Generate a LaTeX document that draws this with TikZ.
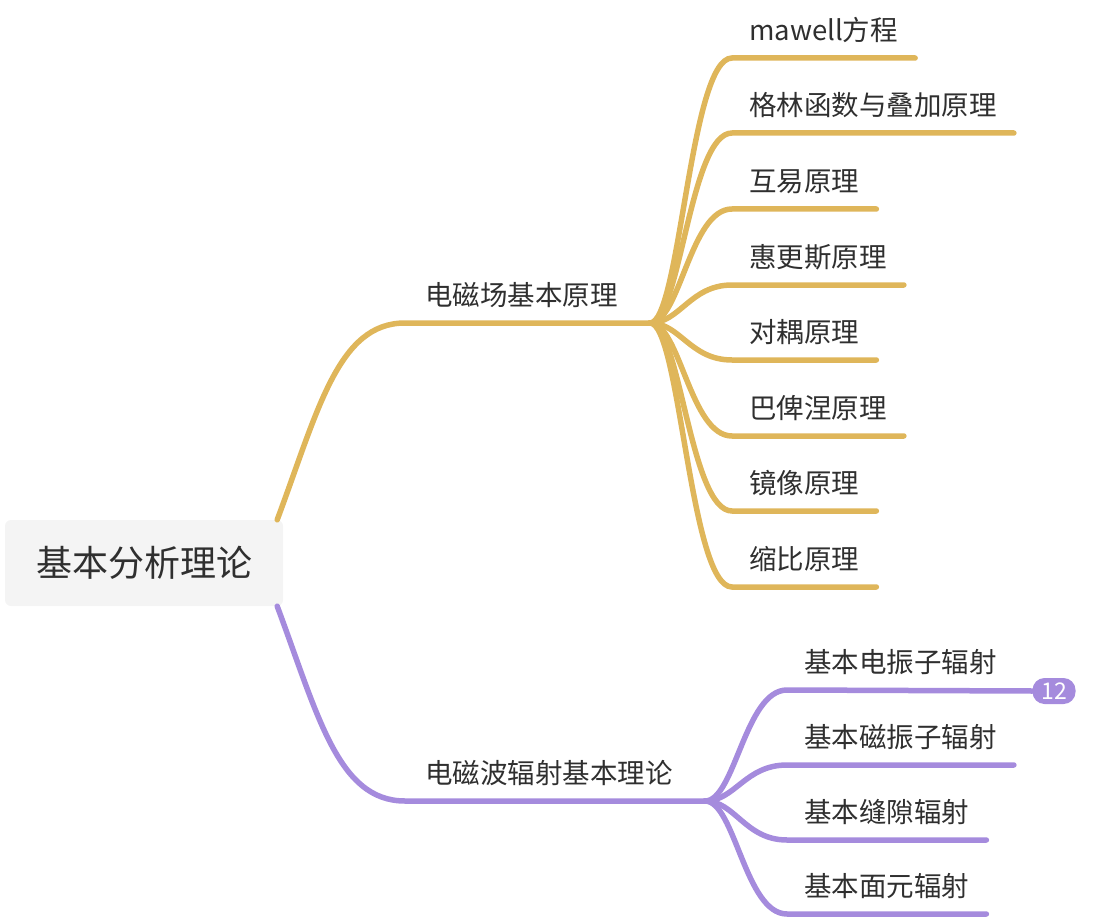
\documentclass[tikz,border=0pt]{standalone}
\usepackage{fontspec}
\usepackage{tikz}
\usetikzlibrary{positioning}
\newfontfamily\cjk{Noto Sans CJK SC}
\definecolor{Ocre}{HTML}{DFB65A}
\definecolor{Lila}{HTML}{A58BDD}
\definecolor{Fondo}{HTML}{F4F4F4}
\definecolor{Tinta}{HTML}{2F2F2F}

\begin{document}
\begin{tikzpicture}[
  x=1pt, y=-1pt,
  every node/.style={font=\cjk\fontsize{27.5}{32}\selectfont,text=Tinta},
  root/.style={fill=Fondo,rounded corners=6pt,minimum width=278pt,
    minimum height=86pt,font=\cjk\fontsize{36}{42}\selectfont},
  topic/.style={anchor=south west,inner xsep=20pt,inner ysep=0pt,text depth=17pt},
  leaf/.style={anchor=south west,inner xsep=17pt,inner ysep=0pt,text depth=17pt},
  rama/.style={line width=5.5pt,line cap=round},
  badge/.style={fill=Lila,rounded corners=12pt,minimum width=43pt,minimum height=26pt,
    inner sep=0pt,text=white,font=\cjk\fontsize{23}{24}\selectfont}
]
  \useasboundingbox (0,0) rectangle (1111,920);

  \node[root] (raiz) at (144,563) {基本分析理论};

  % rama superior
  \node[topic] (campo) at (405,323) {电磁场基本原理};
  \coordinate (j1) at (650,323);
  \draw[rama,Ocre] ([xshift=-6pt]raiz.north east)
    .. controls +(41,-110) and +(-67,0) .. (campo.south west) -- (j1);

  \node[leaf] (c1) at (732,58) {mawell方程};
  \node[leaf] (c2) at (732,133) {格林函数与叠加原理};
  \node[leaf] (c3) at (732,209) {互易原理};
  \node[leaf] (c4) at (732,285) {惠更斯原理};
  \node[leaf] (c5) at (732,360) {对耦原理};
  \node[leaf] (c6) at (732,436) {巴俾涅原理};
  \node[leaf] (c7) at (732,511) {镜像原理};
  \node[leaf] (c8) at (732,587) {缩比原理};

  \draw[rama,Ocre] (j1) .. controls +(30,0) and +(-42,0) .. (c1.south west) -- (c1.south east);
  \draw[rama,Ocre] (j1) .. controls +(30,0) and +(-42,0) .. (c2.south west) -- (c2.south east);
  \draw[rama,Ocre] (j1) .. controls +(30,0) and +(-42,0) .. (c3.south west) -- (c3.south east);
  \draw[rama,Ocre] (j1) .. controls +(30,0) and +(-42,0) .. (c4.south west) -- (c4.south east);
  \draw[rama,Ocre] (j1) .. controls +(30,0) and +(-42,0) .. (c5.south west) -- (c5.south east);
  \draw[rama,Ocre] (j1) .. controls +(30,0) and +(-42,0) .. (c6.south west) -- (c6.south east);
  \draw[rama,Ocre] (j1) .. controls +(30,0) and +(-42,0) .. (c7.south west) -- (c7.south east);
  \draw[rama,Ocre] (j1) .. controls +(30,0) and +(-42,0) .. (c8.south west) -- (c8.south east);

  % rama inferior
  \node[topic] (onda) at (405,801) {电磁波辐射基本理论};
  \coordinate (j2) at (705,801);
  \draw[rama,Lila] ([xshift=-6pt]raiz.south east)
    .. controls +(41,110) and +(-67,0) .. (onda.south west) -- (j2);

  \node[leaf] (r1) at (787,690) {基本电振子辐射};
  \node[leaf] (r2) at (787,765) {基本磁振子辐射};
  \node[leaf] (r3) at (787,840) {基本缝隙辐射};
  \node[leaf] (r4) at (787,914) {基本面元辐射};
  \node[badge] (num) at (1054,691) {12};

  \draw[rama,Lila] (j2) .. controls +(30,0) and +(-42,0) .. (r1.south west) -- (num.west);
  \draw[rama,Lila] (j2) .. controls +(30,0) and +(-42,0) .. (r2.south west) -- (r2.south east);
  \draw[rama,Lila] (j2) .. controls +(30,0) and +(-42,0) .. (r3.south west) -- (r3.south east);
  \draw[rama,Lila] (j2) .. controls +(30,0) and +(-42,0) .. (r4.south west) -- (r4.south east);
\end{tikzpicture}
\end{document}
